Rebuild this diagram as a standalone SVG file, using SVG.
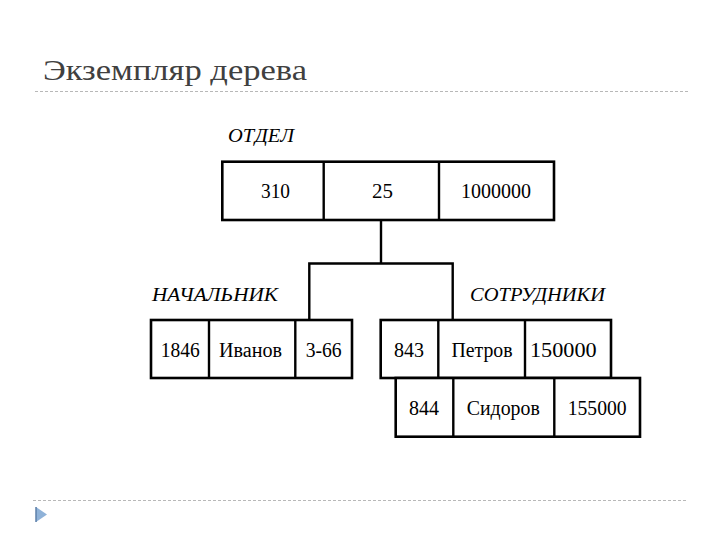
<svg xmlns="http://www.w3.org/2000/svg" width="720" height="540" viewBox="0 0 720 540">
<style>
.box{fill:#fff;stroke:#000;stroke-width:2.6}
.div{stroke:#000;stroke-width:2.4}
.conn{fill:none;stroke:#000;stroke-width:2.4}
.cell{font-family:"Liberation Serif",Tinos,"Times New Roman",Times,"Noto Serif","DejaVu Serif",serif;font-size:20px;fill:#000;text-anchor:middle}
.lbl{font-family:"Liberation Serif",Tinos,"Times New Roman",Times,"Noto Serif","DejaVu Serif",serif;font-size:19px;font-style:italic;fill:#000}
.ttl{font-family:"Liberation Serif",Tinos,"Times New Roman",Times,"Noto Serif","DejaVu Serif",serif;font-size:29px;fill:#404040}
.rule{stroke:#b8b8b8;stroke-width:1;stroke-dasharray:3 2}
</style>
<rect width="720" height="540" fill="#fff"/>
<text class="ttl" x="43" y="80" textLength="264" lengthAdjust="spacingAndGlyphs">Экземпляр дерева</text>
<line class="rule" x1="35" y1="91.5" x2="688" y2="91.5"/>
<line class="rule" x1="33" y1="500.5" x2="688" y2="500.5"/>
<polygon points="36,507 47,514.5 36,522" fill="#8fb2d8"/>
<line x1="36" y1="507" x2="36" y2="522" stroke="#5d7fa8" stroke-width="1.5"/>
<g id="connectors">
<path class="conn" d="M381,220 V263.5 M309.3,263.5 H452.7 M309.3,262.3 V320 M452.7,262.3 V320"/>
</g>
<g id="otdel">
<text class="lbl" x="228" y="141.7" textLength="66" lengthAdjust="spacingAndGlyphs">ОТДЕЛ</text>
<rect class="box" x="222.3" y="161.7" width="331.7" height="58.3"/>
<line class="div" x1="323.7" y1="161.7" x2="323.7" y2="220"/>
<line class="div" x1="439" y1="161.7" x2="439" y2="220"/>
<text class="cell" x="275.5" y="198" textLength="29" lengthAdjust="spacingAndGlyphs">310</text>
<text class="cell" x="382.5" y="198" textLength="21" lengthAdjust="spacingAndGlyphs">25</text>
<text class="cell" x="496" y="198" textLength="70" lengthAdjust="spacingAndGlyphs">1000000</text>
</g>
<g id="nachalnik">
<text class="lbl" x="152" y="300.5" textLength="126" lengthAdjust="spacingAndGlyphs">НАЧАЛЬНИК</text>
<rect class="box" x="151" y="320" width="201" height="58"/>
<line class="div" x1="209" y1="320" x2="209" y2="378"/>
<line class="div" x1="295.3" y1="320" x2="295.3" y2="378"/>
<text class="cell" x="180.3" y="356.5" textLength="39" lengthAdjust="spacingAndGlyphs">1846</text>
<text class="cell" x="250.5" y="356.5" textLength="63" lengthAdjust="spacingAndGlyphs">Иванов</text>
<text class="cell" x="323.7" y="356.5" textLength="36" lengthAdjust="spacingAndGlyphs">3-66</text>
</g>
<g id="sotrudniki">
<text class="lbl" x="470" y="300.5" textLength="135" lengthAdjust="spacingAndGlyphs">СОТРУДНИКИ</text>
<rect class="box" x="380.7" y="320" width="230.3" height="58"/>
<line class="div" x1="438.3" y1="320" x2="438.3" y2="378"/>
<line class="div" x1="525" y1="320" x2="525" y2="378"/>
<text class="cell" x="409" y="356.5" textLength="30" lengthAdjust="spacingAndGlyphs">843</text>
<text class="cell" x="482" y="356.5" textLength="61" lengthAdjust="spacingAndGlyphs">Петров</text>
<text class="cell" x="563.3" y="356.5" textLength="66.7" lengthAdjust="spacingAndGlyphs">150000</text>
</g>
<g id="sotrudnik2">
<rect class="box" x="395.7" y="378" width="244.3" height="58.7"/>
<line class="div" x1="453.3" y1="378" x2="453.3" y2="436.7"/>
<line class="div" x1="554.3" y1="378" x2="554.3" y2="436.7"/>
<text class="cell" x="424" y="415" textLength="30" lengthAdjust="spacingAndGlyphs">844</text>
<text class="cell" x="503.3" y="415" textLength="73" lengthAdjust="spacingAndGlyphs">Сидоров</text>
<text class="cell" x="597.2" y="415" textLength="59" lengthAdjust="spacingAndGlyphs">155000</text>
</g>
</svg>
